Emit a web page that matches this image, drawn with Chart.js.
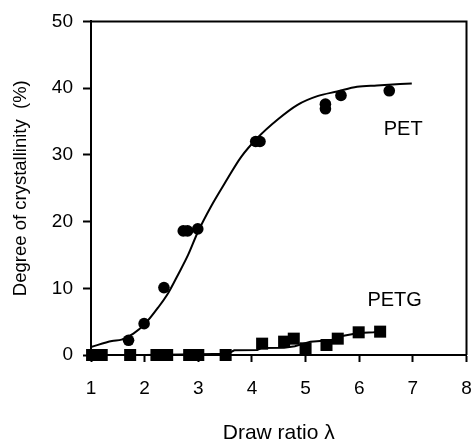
<!DOCTYPE html>
<html>
<head>
<meta charset="utf-8">
<script src="https://cdn.jsdelivr.net/npm/chart.js@4"></script>
<style>
  html, body { margin: 0; padding: 0; background: #fff; }
  #wrap { width: 475px; height: 446px; }
</style>
</head>
<body>
<div id="wrap"><canvas id="chartCryst" width="475" height="446"></canvas></div>
<script>
// measured points
const petX = [1.70, 1.99, 2.36, 2.72, 2.80, 2.99, 4.07, 4.15, 5.37, 5.37, 5.66, 6.56];
const petY = [2.2, 4.7, 10.1, 18.6, 18.6, 18.9, 32.0, 32.0, 36.9, 37.6, 38.9, 39.6];

const petgX = [1.02, 1.20, 1.73, 2.22, 2.42, 2.83, 3.00, 3.51, 4.19, 4.60, 4.78, 5.00, 5.39, 5.60, 5.99, 6.39];
const petgY = [0, 0, 0, 0, 0, 0, 0, 0, 1.7, 2.0, 2.45, 1.0, 1.5, 2.45, 3.4, 3.5];

// fitted curves
const petFitX = [1.0, 1.39, 1.57, 1.79, 2.01, 2.25, 2.44, 2.62, 2.81, 2.99, 3.24, 3.49, 3.80, 4.11, 4.48, 4.85, 5.22, 5.59, 5.96, 6.33, 6.98];
const petFitY = [1.2, 2.1, 2.3, 3.2, 4.7, 7.1, 9.3, 12.0, 15.0, 18.4, 22.3, 25.7, 29.7, 32.6, 35.3, 37.5, 38.8, 39.5, 40.2, 40.4, 40.7];

const petgFitX = [1.0, 2.0, 3.0, 3.55, 3.67, 4.10, 4.17, 4.60, 4.80, 5.09, 5.46, 5.71, 5.99, 6.27, 6.36];
const petgFitY = [0, 0, 0.1, 0.2, 0.7, 0.75, 1.05, 1.1, 1.3, 2.0, 2.2, 2.9, 3.3, 3.4, 3.5];

const xTicks = [1, 2, 3, 4, 5, 6, 7, 8];
const yTicks = [0, 10, 20, 30, 40, 50];

const seriesLabels = [
    { text: "PET", x: 6.82, y: 33.8 },
    { text: "PETG", x: 6.66, y: 8.1 }
];

function toPoints(xs, ys) {
    return xs.map((x, i) => ({ x: x, y: ys[i] }));
}

const FONT = "'Liberation Sans', Arial, sans-serif";

// closes the frame on top/right and writes the series names
const frameAndNames = {
    id: "frameAndNames",
    afterDraw(chart) {
        const ctx = chart.ctx;
        const a = chart.chartArea;
        ctx.save();
        ctx.strokeStyle = "#000";
        ctx.lineWidth = 2;
        ctx.beginPath();
        ctx.moveTo(a.left, a.top);
        ctx.lineTo(a.right, a.top);
        ctx.lineTo(a.right, a.bottom);
        ctx.stroke();

        ctx.fillStyle = "#000";
        ctx.font = "20px " + FONT;
        ctx.textAlign = "center";
        ctx.textBaseline = "middle";
        seriesLabels.forEach(l => {
            ctx.fillText(l.text, chart.scales.x.getPixelForValue(l.x), chart.scales.y.getPixelForValue(l.y));
        });
        ctx.restore();
    }
};

new Chart(document.getElementById("chartCryst"), {
    type: "scatter",
    data: {
        datasets: [
            {
                label: "PET fit",
                data: toPoints(petFitX, petFitY),
                showLine: true,
                cubicInterpolationMode: "monotone",
                borderColor: "#000",
                borderWidth: 2,
                pointRadius: 0,
                clip: false
            },
            {
                label: "PETG fit",
                data: toPoints(petgFitX, petgFitY),
                showLine: true,
                borderColor: "#000",
                borderWidth: 2,
                pointRadius: 0,
                clip: false
            },
            {
                label: "PET",
                data: toPoints(petX, petY),
                pointStyle: "circle",
                pointRadius: 5.8,
                backgroundColor: "#000",
                borderColor: "#000",
                borderWidth: 0,
                clip: false
            },
            {
                label: "PETG",
                data: toPoints(petgX, petgY),
                pointStyle: "rect",
                pointRadius: 8.5,
                backgroundColor: "#000",
                borderColor: "#000",
                borderWidth: 0,
                clip: false
            }
        ]
    },
    options: {
        responsive: false,
        animation: false,
        layout: { padding: { top: 15, right: 5, left: 0, bottom: 0 } },
        plugins: {
            legend: { display: false },
            tooltip: { enabled: false }
        },
        scales: {
            x: {
                type: "linear",
                min: 1,
                max: 8,
                afterBuildTicks: s => { s.ticks = xTicks.map(v => ({ value: v })); },
                afterFit: s => {
                    s.height = 91;
                    s.paddingLeft = 0;
                    s.paddingRight = 0;
                },
                border: { color: "#000", width: 2 },
                grid: { drawOnChartArea: false, drawTicks: true, tickLength: 7, color: "#000", tickWidth: 2 },
                ticks: { color: "#000", padding: 15, font: { family: FONT, size: 19 } },
                title: {
                    display: true,
                    text: "Draw ratio λ",
                    color: "#000",
                    padding: { top: 0, bottom: 0 },
                    font: { family: FONT, size: 21 }
                }
            },
            y: {
                type: "linear",
                min: 0,
                max: 50,
                afterBuildTicks: s => { s.ticks = yTicks.map(v => ({ value: v })); },
                afterFit: s => { s.width = 91; },
                border: { color: "#000", width: 2 },
                grid: { drawOnChartArea: false, drawTicks: true, tickLength: 8, color: "#000", tickWidth: 2 },
                ticks: { color: "#000", padding: 10, font: { family: FONT, size: 19 } },
                title: {
                    display: true,
                    text: "Degree of crystallinity  (%)",
                    color: "#000",
                    padding: { top: 10, bottom: 0 },
                    font: { family: FONT, size: 18.5 }
                }
            }
        }
    },
    plugins: [frameAndNames]
});
</script>
</body>
</html>
